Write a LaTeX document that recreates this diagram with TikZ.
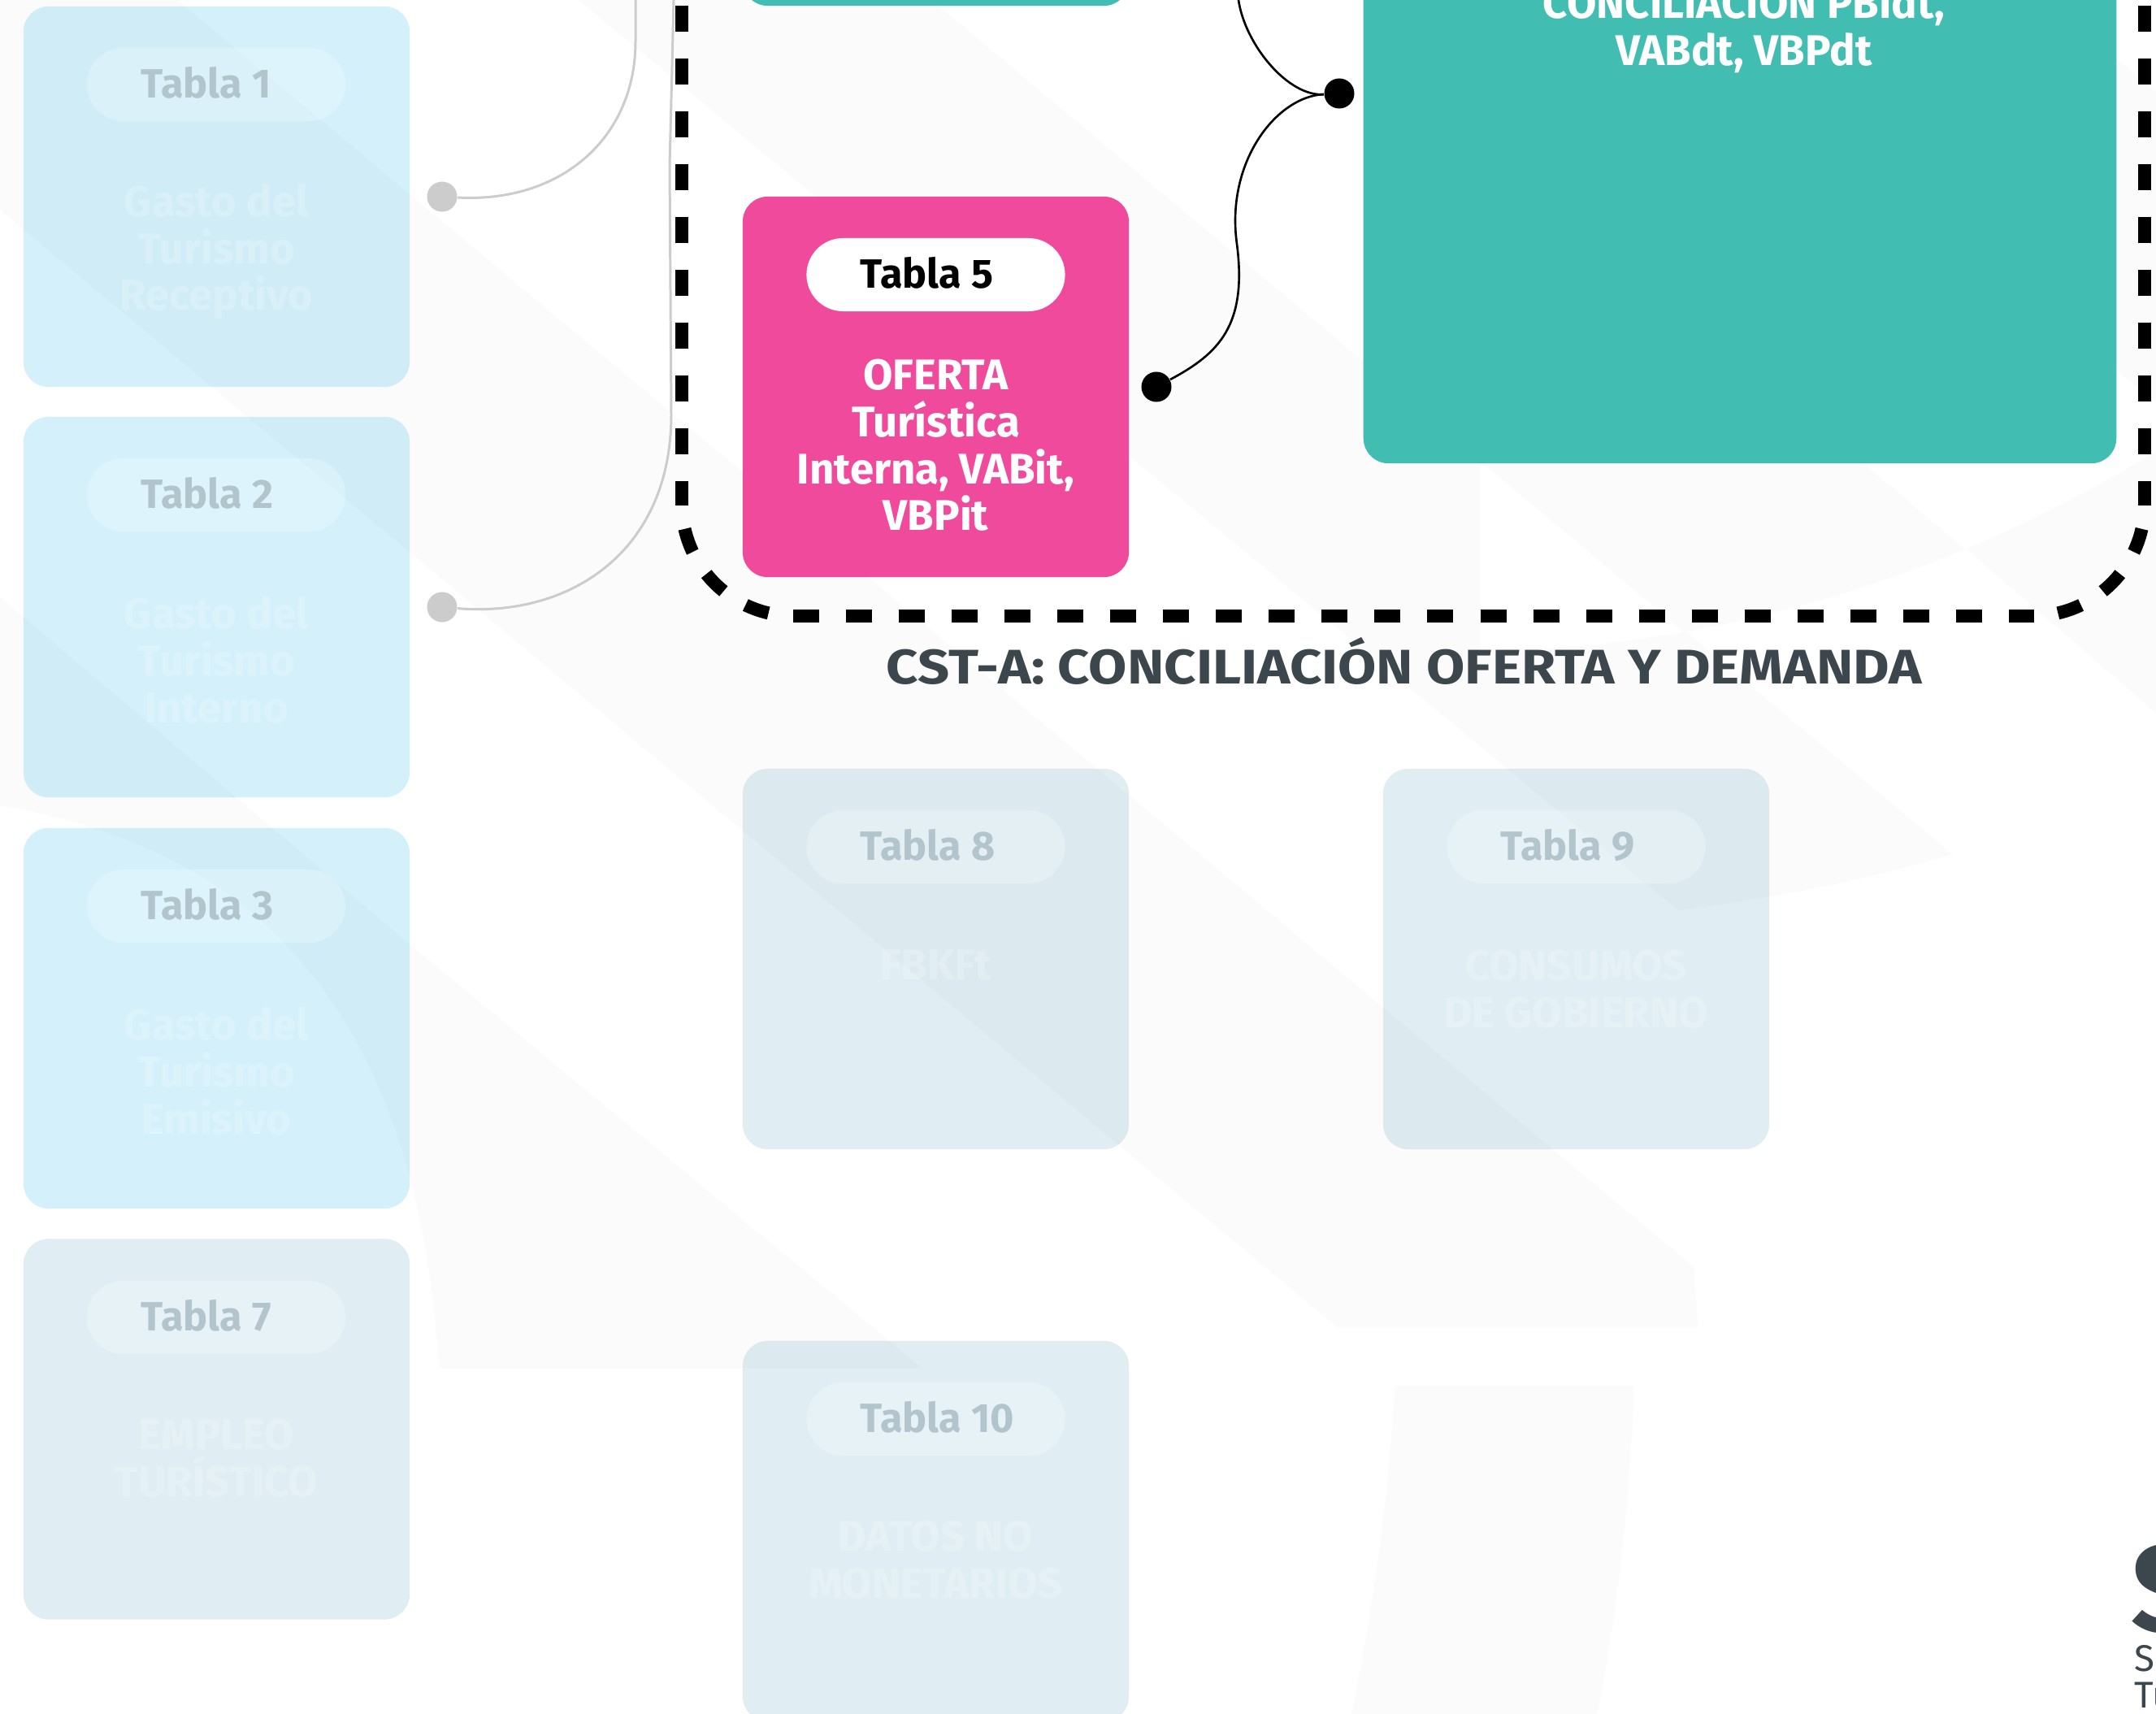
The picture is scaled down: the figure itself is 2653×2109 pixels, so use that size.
\documentclass[tikz,border=0pt]{standalone}
\usepackage{fontspec}
\setmainfont{Fira Sans}
\usepackage{xcolor}
\usepackage{graphicx}
\usepackage{tikz}
\definecolor{bgband}{HTML}{FBFBFB}
\definecolor{pinkcard}{HTML}{EF4A9B}
\definecolor{tealcard}{HTML}{41BDB1}
\definecolor{slatetext}{HTML}{3C474D}
\definecolor{fadeblue}{HTML}{28B9EB}
\definecolor{fadegrey}{HTML}{64AAC3}
\definecolor{fadelabel}{HTML}{B2C4CC}
\definecolor{wiregrey}{HTML}{CCCCCC}
\tikzstyle{card}=[rectangle, rounded corners=0.31cm, minimum width=4.75cm, minimum height=4.68cm, inner sep=0pt, outer sep=0pt]
\tikzstyle{cardblue}=[card, fill=fadeblue, fill opacity=0.2]
\tikzstyle{cardgrey}=[card, fill=fadegrey, fill opacity=0.2]
\tikzstyle{cardpink}=[card, fill=pinkcard]
\tikzstyle{cardteal}=[card, fill=tealcard]
\tikzstyle{pill}=[rectangle, rounded corners=0.45cm, minimum width=3.18cm, minimum height=0.9cm, inner sep=0pt, outer sep=0pt]
\tikzstyle{pillfade}=[pill, fill=white, fill opacity=0.25]
\tikzstyle{pillon}=[pill, fill=white]
\tikzstyle{tablab}=[anchor=west, inner sep=0pt, font=\bfseries\fontsize{14.3}{16.4}\selectfont]
\tikzstyle{bodytxt}=[align=center, inner sep=0pt, font=\bfseries\fontsize{15}{16.4}\selectfont]
\tikzstyle{bodyfade}=[bodytxt, text=white, text opacity=0.2]
\tikzstyle{dotgrey}=[circle, fill=wiregrey, minimum size=0.37cm, inner sep=0pt]
\tikzstyle{dotblk}=[circle, fill=black, minimum size=0.37cm, inner sep=0pt]
\tikzstyle{wiregr}=[draw=wiregrey, line width=0.85pt]
\tikzstyle{wireblk}=[draw=black, line width=0.75pt]
\tikzstyle{framedash}=[draw=black, line width=0.16cm, dash pattern=on 0.32cm off 0.33cm]
\tikzstyle{framearc}=[draw=black, line width=0.16cm, dash pattern=on 0.30cm off 0.32cm]
\begin{document}
\begin{tikzpicture}[x=0.01cm,y=-0.01cm]
\useasboundingbox (0,0) rectangle (2653,2109);
\clip (0,0) rectangle (2653,2109);
% faint logo behind everything
\fill[white] (0,0) rectangle (2653,2109);
\fill[bgband] (0,0) -- (218,0) -- (2085,1560) -- (2089,1633) -- (1645,1633) -- (0,258) -- cycle;
\fill[bgband] (712,0) -- (1146,0) -- (2402,1051) .. controls (2290,1085) and (2180,1105) .. (2065,1120) -- cycle;
\fill[bgband] (0,735) -- (504,1162) -- (1134,1683) -- (540,1683) .. controls (510,1160) and (230,1030) .. (0,991) -- cycle;
\fill[bgband] (1716,1705) -- (2011,1705) .. controls (2005,1850) and (1990,1990) .. (1965,2109) -- (1663,2109) .. controls (1690,1980) and (1710,1830) .. cycle;
\fill[bgband] (2390,650) -- (2653,877) -- (2653,500) -- cycle;
\begin{scope}
\clip (1822,800) .. controls (2120,800) and (2420,700) .. (2653,555) -- (2653,0) -- (1822,0) -- cycle;
\fill[white] (1822,0) rectangle (2653,900);
\fill[bgband] (1789,540) -- (2258,540) -- (2680,900) -- (2218,900) -- cycle;
\fill[bgband] (2062,0) -- (2515,0) -- (2653,112) -- (2653,496) -- cycle;
\end{scope}
% wires on the left
\node[dotgrey] (d1) at (544,242) {};
\node[dotgrey] (d2) at (544,747) {};
\coordinate (top1) at (782,0);
\coordinate (top2) at (829,0);
\draw[wiregr] (d1) .. controls (690,250) and (782,170) .. (782,51) -- (top1);
\draw[wiregr] (d2) .. controls (700,760) and (826,680) .. (826,510) -- (824,204) -- (top2);
% frame
\draw[framedash] (839,-58) -- (839,622);
\draw[framearc] (842.5,650.8) .. controls (856.9,713.6) and (912.6,758) .. (977,758);
\draw[framedash] (976,758) -- (2503,758);
\draw[framearc] (2635.5,650.8) .. controls (2621.1,713.6) and (2565.4,758) .. (2501,758);
\draw[framedash] (2639,-58) -- (2639,622);
\node[font=\bfseries\fontsize{17}{20}\selectfont, text=slatetext] (cst) at (1728,813) {\scalebox{1.146}[1]{CST-A: CONCILIACIÓN OFERTA Y DEMANDA}};
% active cards
\node[cardteal] (t4) at (1151.5,-227) {};
\node[cardteal, minimum width=9.26cm, minimum height=6.7cm] (t6) at (2141,235) {};
\node[bodytxt, text=white] (b6) at (2146,31) {CONCILIACIÓN PBIdt,\\VABdt, VBPdt};
\node[cardpink] (t5) at (1151.5,476) {};
\node[pillon] (p5) at (1151.5,338) {};
\node[tablab] (l5) at (1058,336) {Tabla 5};
\node[bodytxt, text=white] (b5) at (1151.5,548) {OFERTA\\Turística\\Interna, VABit,\\VBPit};
% black wires
\node[dotblk] (d5) at (1423,476) {};
\node[dotblk] (d6) at (1648,115) {};
\coordinate (top3) at (1524,0);
\draw[wireblk] (top3) .. controls (1532,55) and (1585,119) .. (d6);
\draw[wireblk] (d5) .. controls (1500,435) and (1535,400) .. (1522,300) .. controls (1508,200) and (1570,119) .. (d6);
% faded cards, left column
\node[cardblue] (t1) at (266.5,242) {};
\node[pillfade] (p1) at (266,104) {};
\node[tablab, text=fadelabel] (l1) at (173,102) {Tabla 1};
\node[bodyfade] (b1) at (266.5,310) {Gasto del\\Turismo\\Receptivo};
\node[cardblue] (t2) at (266.5,747) {};
\node[pillfade] (p2) at (266,609) {};
\node[tablab, text=fadelabel] (l2) at (173,607) {Tabla 2};
\node[bodyfade] (b2) at (266.5,812) {Gasto del\\Turismo\\Interno};
\node[cardblue] (t3) at (266.5,1253) {};
\node[pillfade] (p3) at (266,1115) {};
\node[tablab, text=fadelabel] (l3) at (173,1113) {Tabla 3};
\node[bodyfade] (b3) at (266.5,1318) {Gasto del\\Turismo\\Emisivo};
\node[cardgrey] (t7) at (266.5,1758.5) {};
\node[pillfade] (p7) at (266,1621) {};
\node[tablab, text=fadelabel] (l7) at (173,1619) {Tabla 7};
\node[bodyfade] (b7) at (266.5,1794) {EMPLEO\\TURÍSTICO};
% faded cards, lower row
\node[cardgrey] (t8) at (1151.5,1180) {};
\node[pillfade] (p8) at (1151.5,1042) {};
\node[tablab, text=fadelabel] (l8) at (1058,1040) {Tabla 8};
\node[bodyfade] (b8) at (1151.5,1188) {FBKFt};
\node[cardgrey] (t9) at (1939.5,1180) {};
\node[pillfade] (p9) at (1939.5,1042) {};
\node[tablab, text=fadelabel] (l9) at (1846,1040) {Tabla 9};
\node[bodyfade] (b9) at (1939.5,1217) {CONSUMOS\\DE GOBIERNO};
\node[cardgrey] (t10) at (1151.5,1884) {};
\node[pillfade] (p10) at (1151.5,1746) {};
\node[tablab, text=fadelabel] (l10) at (1058,1744) {Tabla 10};
\node[bodyfade] (b10) at (1151.5,1919) {DATOS NO\\MONETARIOS};
% logo corner
\node[anchor=west, inner sep=0pt, text=slatetext, font=\bfseries\fontsize{43}{43}\selectfont] (logo) at (2622,1955) {S};
\node[anchor=west, inner sep=0pt, text=slatetext, font=\fontsize{13}{14}\selectfont] (logoa) at (2626,2039) {Si};
\node[anchor=west, inner sep=0pt, text=slatetext, font=\fontsize{13}{14}\selectfont] (logob) at (2626,2086) {Tu};
\end{tikzpicture}
\end{document}
